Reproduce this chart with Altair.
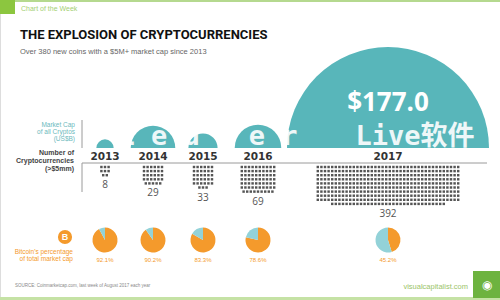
import math
import altair as alt
import pandas as pd

# ---------------- data ----------------
years = ["2013", "2014", "2015", "2016", "2017"]
market_cap_b = [1.3, 8.6, 3.7, 9.4, 177.0]          # US$ billions
num_coins = [8, 29, 33, 69, 392]                     # cryptocurrencies > $5mm
btc_share = [92.1, 90.2, 83.3, 78.6, 45.2]           # % of total market cap

title_txt = "THE EXPLOSION OF CRYPTOCURRENCIES"
subtitle_txt = "Over 380 new coins with a $5M+ market cap since 2013"
kicker_txt = "Chart of the Week"
source_txt = "SOURCE: Coinmarketcap.com, last week of August 2017 each year"
site_txt = "visualcapitalist.com"
cap_label = ["Market Cap", "of all Cryptos", "(US$B)"]
num_label = ["Number of", "Cryptocurrencies", "(>$5mm)"]
btc_label = ["Bitcoin's percentage", "of total market cap"]

# ---------------- layout / style ----------------
COL_X = [105, 153, 203, 258, 388]
GRID_COLS = [3, 6, 6, 10, 40]
BASE_Y = 148
TEAL = "#58b6ba"
ORANGE = "#f49a2c"
LTEAL = "#93d2d8"
GREEN = "#8cc63f"
DARK = "#333333"

xs = alt.Scale(domain=[0, 500], nice=False, zero=False)
ys = alt.Scale(domain=[0, 300], nice=False, zero=False, reverse=True)
X = lambda f: alt.X(f, scale=xs, axis=None)
Y = lambda f: alt.Y(f, scale=ys, axis=None)


def text_layer(rows, **kw):
    df = pd.DataFrame(rows, columns=["x", "y", "t"])
    return alt.Chart(df).mark_text(**kw).encode(x=X("x:Q"), y=Y("y:Q"), text="t:N")


layers = []

# frame decorations
rects = pd.DataFrame([
    {"x": 0, "x2": 500, "y": 0, "y2": 2, "c": "#b5d98f"},
    {"x": 0, "x2": 15, "y": 0, "y2": 14, "c": GREEN},
    {"x": 0, "x2": 500, "y": 297, "y2": 300, "c": "#c5e2a5"},
    {"x": 473, "x2": 500, "y": 271, "y2": 298, "c": "#6db33f"},
])
layers.append(alt.Chart(rects).mark_rect().encode(
    x=X("x:Q"), x2="x2:Q", y=Y("y:Q"), y2="y2:Q",
    color=alt.Color("c:N", scale=None)))

# market cap semicircles (area ~ market cap)
cap_df = pd.DataFrame({"year": years, "cap": market_cap_b, "x": COL_X, "y": [BASE_Y] * 5})
layers.append(alt.Chart(cap_df).mark_arc(
    theta=3 * math.pi / 2, theta2=5 * math.pi / 2, color=TEAL).encode(
    x=X("x:Q"), y=Y("y:Q"),
    radius=alt.Radius("cap:Q", stack=None,
                      scale=alt.Scale(type="sqrt", domain=[0, 177], range=[0, 101],
                                      nice=False, zero=True))))

# gray guide lines
lines = pd.DataFrame([
    {"x": 82, "x2": 82, "y": 120, "y2": 148},
    {"x": 82, "x2": 82, "y": 163, "y2": 192},
    {"x": 82, "x2": 487, "y": 163, "y2": 163},
])
layers.append(alt.Chart(lines).mark_rule(color="#9a9a9a", strokeWidth=1).encode(
    x=X("x:Q"), x2="x2:Q", y=Y("y:Q"), y2="y2:Q"))

# waffle dots
dots = []
num_lab = []
for i, (n, cols) in enumerate(zip(num_coins, GRID_COLS)):
    rows = math.ceil(n / cols)
    for k in range(n):
        r, c = divmod(k, cols)
        in_row = cols if r < rows - 1 else n - cols * (rows - 1)
        off = (cols - in_row) / 2
        dots.append({"x": COL_X[i] + (c + off - (cols - 1) / 2) * 3.6, "y": 167 + r * 4.1})
    num_lab.append((COL_X[i], 167 + (rows - 1) * 4.1 + 10, str(n)))
layers.append(alt.Chart(pd.DataFrame(dots)).mark_square(size=6, color="#555555", opacity=1).encode(
    x=X("x:Q"), y=Y("y:Q")))
layers.append(text_layer(num_lab, fontSize=10, color="#555555", font="Open Sans", baseline="middle"))

# pies
pie_rows = []
for i, p in enumerate(btc_share):
    pie_rows.append({"x": COL_X[i], "y": 240, "s": 0, "e": p, "c": ORANGE})
    pie_rows.append({"x": COL_X[i], "y": 240, "s": p, "e": 100, "c": LTEAL})
layers.append(alt.Chart(pd.DataFrame(pie_rows)).mark_arc(radius=12.5).encode(
    x=X("x:Q"), y=Y("y:Q"),
    theta=alt.Theta("s:Q", stack=None, scale=alt.Scale(domain=[0, 100], range=[0, 2 * math.pi])),
    theta2="e:Q",
    color=alt.Color("c:N", scale=None)))
layers.append(text_layer([(COL_X[i], 260, f"{p}%") for i, p in enumerate(btc_share)],
                         fontSize=6, color=ORANGE, baseline="middle"))

# bitcoin icon
icon = pd.DataFrame([{"x": 65, "y": 237}])
layers.append(alt.Chart(icon).mark_circle(size=200, color=ORANGE, opacity=1).encode(x=X("x:Q"), y=Y("y:Q")))
layers.append(text_layer([(65, 237, "B")], fontSize=9, fontWeight="bold", color="white", baseline="middle"))

# watermark (drawn under the year labels)
layers.append(text_layer([(208, 137, "L e d g e r")], fontSize=27, fontWeight="bold", color="white",
                         font="DejaVu Sans Mono", baseline="middle", opacity=0.9))
layers.append(text_layer([(415, 137, "Live软件")], fontSize=27, fontWeight="bold", color="white",
                         font="DejaVu Sans Mono, Noto Sans CJK SC", baseline="middle", opacity=0.9))

# year labels
layers.append(text_layer([(COL_X[i], 157, y) for i, y in enumerate(years)],
                         fontSize=10.5, fontWeight="bold", color=DARK, font="DejaVu Sans", baseline="middle"))

# left labels
layers.append(text_layer([(75, 125 + 7 * j, s) for j, s in enumerate(cap_label)],
                         fontSize=6.5, color="#6cb9bd", align="right", baseline="middle"))
layers.append(text_layer([(74, 153 + 8 * j, s) for j, s in enumerate(num_label)],
                         fontSize=7, fontWeight="bold", color="#444444", align="right", baseline="middle"))
layers.append(text_layer([(73, 252 + 7 * j, s) for j, s in enumerate(btc_label)],
                         fontSize=6.5, color=ORANGE, align="right", baseline="middle"))

# big value
layers.append(text_layer([(COL_X[4], 103, f"${market_cap_b[4]:.1f}")],
                         fontSize=26, fontWeight="bold", color="white", font="Open Sans", baseline="middle"))

# header
layers.append(text_layer([(21, 9, kicker_txt)], fontSize=7, color="#a3cf74", align="left", baseline="middle"))
layers.append(text_layer([(20, 35, title_txt)], fontSize=13, fontWeight="bold", color="#111111",
                         font="Roboto", align="left", baseline="middle"))
layers.append(text_layer([(20, 52, subtitle_txt)], fontSize=7.5, color="#666666", align="left", baseline="middle"))

# footer
layers.append(text_layer([(15, 286, source_txt)], fontSize=4.5, color="#888888", align="left", baseline="middle"))
layers.append(text_layer([(468, 287, site_txt)], fontSize=7.5, color="#9bc46a", align="right", baseline="middle"))
layers.append(text_layer([(486.5, 285, "◉")], fontSize=12, color="white", baseline="middle"))

chart = alt.layer(*layers).properties(
    width=500, height=300, padding=0, autosize=alt.AutoSizeParams(type="none")
).configure_view(stroke=None).configure(background="white")

chart.save("out.html", embed_options={"renderer": "svg", "actions": False})
